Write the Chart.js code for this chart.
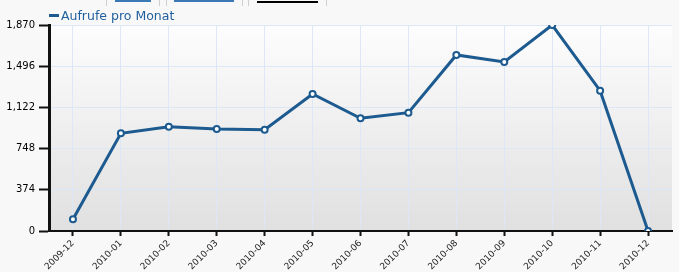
<!DOCTYPE html>
<html>
<head>
<meta charset="utf-8">
<script src="https://cdn.jsdelivr.net/npm/chart.js@4/dist/chart.umd.min.js"></script>
<style>
  html, body { margin: 0; padding: 0; background: #f8f8f8; }
  #wrap { position: relative; width: 679px; height: 272px; overflow: hidden; }
  canvas { position: absolute; left: 0; top: 0; }
  .deco { position: absolute; }
  #legend { position: absolute; left: 49px; top: 8px; font-family: "DejaVu Sans", Verdana, sans-serif; font-size: 12.5px; color: #1f5f9e; white-space: nowrap; }
  #legend .mk { display: inline-block; width: 10px; height: 3px; background: #1c5a8f; vertical-align: middle; margin-right: 2px; position: relative; top: -1px; }
</style>
</head>
<body>
<div id="wrap">
  <canvas id="c" width="679" height="272"></canvas>
  <div class="deco" style="left:106px;top:0;width:1px;height:6px;background:#cfcfcf"></div>
  <div class="deco" style="left:115px;top:0;width:36px;height:2px;background:#3a79b5"></div>
  <div class="deco" style="left:159px;top:0;width:1px;height:6px;background:#cfcfcf"></div>
  <div class="deco" style="left:166px;top:0;width:1px;height:6px;background:#cfcfcf"></div>
  <div class="deco" style="left:174px;top:0;width:60px;height:2px;background:#3a79b5"></div>
  <div class="deco" style="left:242px;top:0;width:1px;height:6px;background:#cfcfcf"></div>
  <div class="deco" style="left:248px;top:0;width:1px;height:6px;background:#cfcfcf"></div>
  <div class="deco" style="left:257px;top:1px;width:61px;height:2px;background:#000"></div>
  <div class="deco" style="left:326px;top:0;width:1px;height:6px;background:#cfcfcf"></div>
  <div id="legend"><span class="mk"></span>Aufrufe pro Monat</div>
</div>
<script>
const categories = ["2009-12","2010-01","2010-02","2010-03","2010-04","2010-05","2010-06","2010-07","2010-08","2010-09","2010-10","2010-11","2010-12"];
const seriesName = "Aufrufe pro Monat";
const views = [106, 887, 947, 926, 920, 1244, 1023, 1074, 1598, 1534, 1870, 1274, 0];
const yTicks = [0, 374, 748, 1122, 1496, 1870];

const plotBg = {
  id: 'plotBg',
  beforeDraw(chart) {
    const {ctx, chartArea: a} = chart;
    const g = ctx.createLinearGradient(0, a.top, 0, a.bottom);
    g.addColorStop(0, '#fdfdfd');
    g.addColorStop(1, '#e0e0e0');
    ctx.save();
    ctx.fillStyle = g;
    ctx.fillRect(a.left, a.top, a.right - a.left, a.bottom - a.top);
    ctx.restore();
  }
};

new Chart(document.getElementById('c'), {
  type: 'line',
  data: {
    labels: categories,
    datasets: [{
      label: seriesName,
      data: views,
      borderColor: '#1c5a8f',
      borderWidth: 3,
      pointRadius: 3,
      pointBorderWidth: 2,
      pointBackgroundColor: '#ffffff',
      pointBorderColor: '#1c5a8f',
      tension: 0,
      fill: false
    }]
  },
  options: {
    responsive: false,
    animation: false,
    layout: { padding: { top: 25, right: 7, left: 0, bottom: 0 } },
    plugins: { legend: { display: false }, tooltip: { enabled: false } },
    scales: {
      x: {
        offset: true,
        grid: { color: '#dde8f7', lineWidth: 1, tickColor: '#111', tickWidth: 2, tickLength: 5, offset: false },
        border: { color: '#111', width: 2 },
        ticks: {
          color: '#222', autoSkip: false, minRotation: 45, maxRotation: 45, padding: 2,
          font: { family: 'DejaVu Sans', size: 9 }
        },
        afterFit(s) { s.height = 41; }
      },
      y: {
        min: 0, max: 1870,
        afterBuildTicks(s) { s.ticks = yTicks.map(v => ({ value: v })); },
        grid: { color: '#dde8f7', lineWidth: 1, tickColor: '#111', tickWidth: 2, tickLength: 10 },
        border: { color: '#111', width: 3 },
        ticks: {
          color: '#000', padding: 4,
          font: { family: 'DejaVu Sans', size: 10 },
          callback: v => v.toLocaleString('en-US')
        },
        afterFit(s) { s.width = 49; }
      }
    }
  },
  plugins: [plotBg]
});
</script>
</body>
</html>
